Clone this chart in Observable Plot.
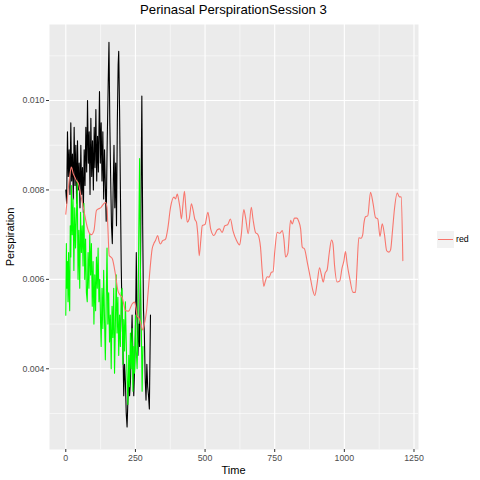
<!DOCTYPE html>
<html><head><meta charset="utf-8">
<script src="https://cdn.jsdelivr.net/npm/d3@7"></script>
<script src="https://cdn.jsdelivr.net/npm/@observablehq/plot@0.6"></script>
<style>
body{margin:0;background:#fff;font-family:"Liberation Sans",Arial,sans-serif;}
#wrap{position:relative;width:480px;height:480px;overflow:hidden;}
#title{position:absolute;left:49px;width:369px;top:2px;text-align:center;font-size:13.2px;color:#000;line-height:16px;}
#chart{position:absolute;left:0;top:22px;}
#xlab{position:absolute;left:49px;width:369px;top:463px;text-align:center;font-size:11px;line-height:14px;}
#ylab{position:absolute;left:10px;top:236.5px;font-size:11px;line-height:14px;transform:translate(-50%,-50%) rotate(-90deg);white-space:nowrap;}
#legkey{position:absolute;left:437px;top:231px;width:17px;height:17px;background:#F2F2F2;}
#legkey div{position:absolute;left:1px;right:1px;top:7.8px;height:1.1px;background:#F8766D;}
#legtxt{position:absolute;left:456px;top:232px;font-size:8.8px;line-height:14px;color:#000;}
</style></head>
<body><div id="wrap">
<div id="title"></div>
<div id="chart"></div>
<div id="xlab"></div>
<div id="ylab"></div>
<div id="legkey"><div></div></div>
<div id="legtxt"></div>
</div>
<script>
const titleText = "Perinasal PerspirationSession 3";
const xTitle = "Time";
const yTitle = "Perspiration";
const legendLabels = ["red"];

const xMajor = [0, 250, 500, 750, 1000, 1250];
const xMinor = [125, 375, 625, 875, 1125];
const yMajor = [0.004, 0.006, 0.008, 0.010];
const yMinor = [0.003, 0.005, 0.007, 0.009, 0.011];

const redTime = [0,7,14,20,27,33,38,45,53,65,77,85,92,101,110,118,125,135,143,148,151,156,162,167,178,187,195,202,208,214,226,233,238,247,252,256,264,270,276,282,290,296,302,310,316,322,330,335,340,347,358,366,376,388,394,400,406,410,415,421,426,431,436,443,451,457,463,469,474,479,485,490,500,510,515,520,532,544,552,561,571,581,591,600,613,624,630,639,645,655,666,672,681,690,699,705,711,716,723,730,738,744,750,759,768,777,783,789,797,807,813,821,830,836,843,849,857,867,879,887,894,902,911,917,924,931,938,946,954,959,965,974,983,992,998,1004,1010,1020,1031,1040,1045,1052,1060,1066,1070,1076,1084,1094,1103,1112,1120,1128,1136,1144,1152,1160,1166,1173,1180,1190,1197,1204,1210];
const redVals = [0.00746,0.00791,0.00830,0.00851,0.00836,0.00828,0.00821,0.00815,0.00791,0.00754,0.00717,0.00703,0.00700,0.00709,0.00754,0.00758,0.00760,0.00768,0.00772,0.00760,0.00717,0.00653,0.00650,0.00646,0.00612,0.00575,0.00565,0.00560,0.00545,0.00530,0.00529,0.00538,0.00545,0.00549,0.00535,0.00519,0.00512,0.00500,0.00487,0.00500,0.00530,0.00575,0.00620,0.00668,0.00680,0.00687,0.00698,0.00685,0.00679,0.00686,0.00690,0.00713,0.00761,0.00784,0.00780,0.00791,0.00775,0.00760,0.00735,0.00770,0.00797,0.00760,0.00728,0.00735,0.00769,0.00755,0.00735,0.00728,0.00700,0.00653,0.00690,0.00720,0.00723,0.00750,0.00735,0.00713,0.00698,0.00711,0.00713,0.00705,0.00720,0.00722,0.00735,0.00709,0.00687,0.00677,0.00700,0.00756,0.00740,0.00702,0.00761,0.00735,0.00705,0.00700,0.00672,0.00620,0.00584,0.00595,0.00606,0.00605,0.00616,0.00617,0.00661,0.00705,0.00703,0.00709,0.00690,0.00650,0.00658,0.00732,0.00724,0.00737,0.00737,0.00730,0.00713,0.00672,0.00668,0.00638,0.00600,0.00575,0.00564,0.00590,0.00626,0.00612,0.00594,0.00614,0.00621,0.00660,0.00688,0.00680,0.00630,0.00594,0.00596,0.00626,0.00640,0.00662,0.00635,0.00600,0.00571,0.00571,0.00620,0.00693,0.00692,0.00700,0.00724,0.00740,0.00742,0.00795,0.00770,0.00738,0.00735,0.00696,0.00724,0.00700,0.00664,0.00661,0.00666,0.00710,0.00758,0.00793,0.00785,0.00784,0.00642];

const blackTime = [0,3,6,9,12,15,18,21,24,27,30,33,36,39,42,45,48,51,54,57,60,63,66,69,72,75,78,81,84,87,90,93,96,99,102,105,108,111,114,117,121,124,127,130,133,136,139,142,145,148,152,155,158,161,164,167,170,173,176,179,182,185,188,190,193,196,199,202,205,208,211,214,217,220,223,226,229,232,235,238,241,244,247,250,253,256,259,262,265,268,271,273,276,279,282,285,288,291,294,297,300,304];
const blackVals = [0.0080,0.0077,0.0093,0.0083,0.0089,0.0079,0.0095,0.0082,0.0088,0.0078,0.0094,0.0081,0.0090,0.0077,0.0091,0.0080,0.0086,0.0076,0.0090,0.0079,0.0085,0.0075,0.0089,0.0081,0.0094,0.0084,0.0100,0.0086,0.0093,0.0079,0.0096,0.0083,0.0091,0.0080,0.0094,0.0085,0.0098,0.0082,0.0092,0.0084,0.0102,0.0086,0.0095,0.0082,0.0093,0.0078,0.0089,0.0081,0.0073,0.0088,0.0103,0.0113,0.0095,0.0083,0.0072,0.0068,0.0080,0.0090,0.0076,0.0086,0.0072,0.0095,0.0108,0.0111,0.0098,0.0080,0.0063,0.0052,0.0045,0.0034,0.0041,0.0037,0.0030,0.0027,0.0033,0.0038,0.0034,0.0037,0.0045,0.0052,0.0042,0.0034,0.0040,0.0048,0.0066,0.0052,0.0043,0.0050,0.0045,0.0062,0.0085,0.0101,0.0072,0.0053,0.0048,0.0038,0.0033,0.0041,0.0036,0.0034,0.0031,0.0052];

const greenTime = [0,2,4,6,8,10,12,14,16,18,20,23,26,29,32,35,38,41,44,47,50,53,56,59,62,65,68,71,74,77,80,83,86,89,92,95,98,101,104,107,110,113,116,119,122,125,127,130,133,136,139,142,145,148,151,154,157,160,163,166,169,172,175,178,181,184,187,190,193,196,199,202,205,208,211,214,217,220,223,226,229,232,235,238,241,244,247,250,253,256,259,262,265,268,271,274,277];
const greenVals = [0.0052,0.0068,0.0058,0.0064,0.0055,0.0066,0.0057,0.0053,0.0072,0.0065,0.0081,0.0070,0.0078,0.0062,0.0076,0.0067,0.0074,0.0082,0.0060,0.0071,0.0058,0.0075,0.0066,0.0072,0.0063,0.0077,0.0060,0.0069,0.0057,0.0055,0.0066,0.0058,0.0070,0.0061,0.0068,0.0054,0.0064,0.0050,0.0061,0.0053,0.0065,0.0058,0.0067,0.0055,0.0060,0.0050,0.0045,0.0058,0.0049,0.0062,0.0051,0.0042,0.0055,0.0067,0.0050,0.0057,0.0046,0.0052,0.0040,0.0054,0.0047,0.0058,0.0039,0.0050,0.0061,0.0048,0.0056,0.0043,0.0052,0.0045,0.0057,0.0058,0.0041,0.0051,0.0044,0.0055,0.0046,0.0038,0.0032,0.0043,0.0036,0.0048,0.0040,0.0049,0.0035,0.0045,0.0039,0.0052,0.0044,0.0040,0.0048,0.0070,0.0087,0.0062,0.0050,0.0035,0.0045];

const red = redTime.map((t, i) => ({t, v: redVals[i]}));
const black = blackTime.map((t, i) => ({t, v: blackVals[i]}));
const green = greenTime.map((t, i) => ({t, v: greenVals[i]}));

document.getElementById("title").textContent = titleText;
document.getElementById("xlab").textContent = xTitle;
document.getElementById("ylab").textContent = yTitle;
document.getElementById("legtxt").textContent = legendLabels[0];

const chart = Plot.plot({
  width: 480, height: 458,
  marginTop: 2, marginBottom: 31, marginLeft: 49, marginRight: 62,
  x: {domain: [-58.5, 1266.2]},
  y: {domain: [0.002195, 0.0117]},
  style: {fontFamily: "Liberation Sans, Arial, sans-serif", fontSize: "8.8px", background: "transparent", overflow: "visible"},
  marks: [
    Plot.frame({fill: "#EBEBEB", stroke: null}),
    Plot.ruleY(yMinor, {stroke: "#fff", strokeWidth: 0.55}),
    Plot.ruleX(xMinor, {stroke: "#fff", strokeWidth: 0.55}),
    Plot.ruleY(yMajor, {stroke: "#fff", strokeWidth: 1.1}),
    Plot.ruleX(xMajor, {stroke: "#fff", strokeWidth: 1.1}),
    Plot.line(black, {x: "t", y: "v", stroke: "black", strokeWidth: 1.1}),
    Plot.line(green, {x: "t", y: "v", stroke: "#00FF00", strokeWidth: 1.1}),
    Plot.line(red, {x: "t", y: "v", stroke: "#F8766D", strokeWidth: 1.1, curve: "monotone-x"}),
    Plot.axisX({ticks: xMajor, tickSize: 3, tickPadding: 2, tickFormat: d => String(d), label: null, stroke: "#333", fill: "#4D4D4D", fontSize: 8.8}),
    Plot.axisY({ticks: yMajor, tickSize: 3, tickPadding: 2, tickFormat: d3.format(".3f"), label: null, stroke: "#333", fill: "#4D4D4D", fontSize: 8.8})
  ]
});
document.getElementById("chart").appendChild(chart);
</script>
</body></html>
